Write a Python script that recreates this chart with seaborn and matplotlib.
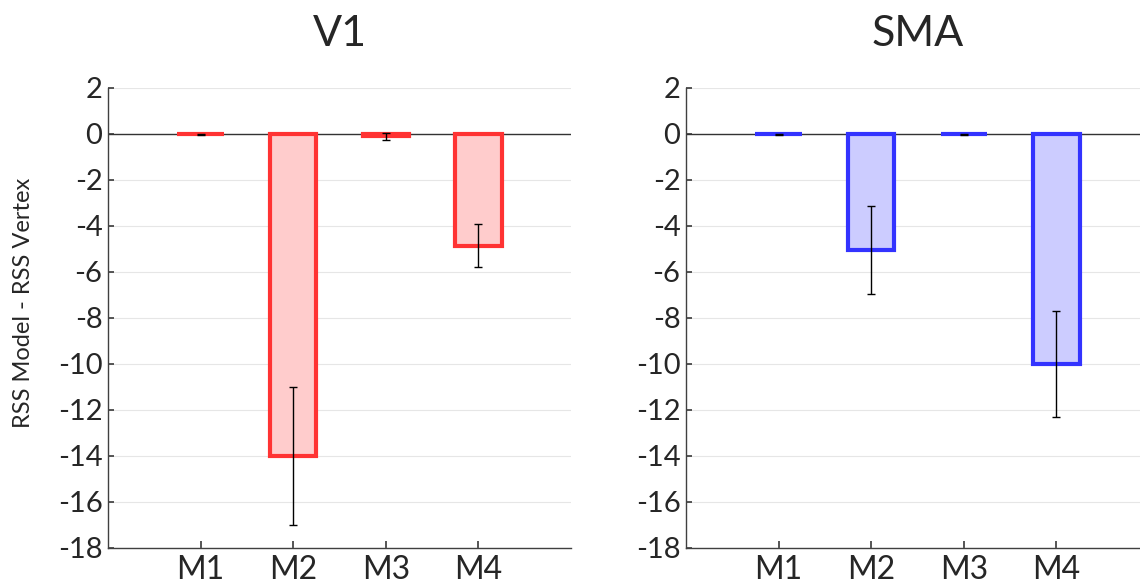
import matplotlib
matplotlib.use("Agg")
import matplotlib.pyplot as plt
import seaborn as sns
import pandas as pd

models = ["M1", "M2", "M3", "M4"]
v1_values = [-0.02, -14.0, -0.1, -4.85]
v1_errors = [0.03, 3.0, 0.15, 0.92]
sma_values = [-0.02, -5.05, -0.02, -10.0]
sma_errors = [0.03, 1.9, 0.03, 2.3]
titles = ["V1", "SMA"]
y_ticks = list(range(-18, 3, 2))

sns.set_theme(style="white")
plt.rcParams["font.family"] = ["Lato", "DejaVu Sans"]

fig = plt.figure(figsize=(11.4, 5.87), dpi=100)
ax1 = fig.add_axes([108 / 1140, 39 / 587, 463 / 1140, 460 / 587])
ax2 = fig.add_axes([686 / 1140, 39 / 587, 463 / 1140, 460 / 587])

panels = [
    (ax1, titles[0], v1_values, v1_errors, "#FFCCCC", "#FF3333"),
    (ax2, titles[1], sma_values, sma_errors, "#CCCCFF", "#3333FF"),
]

for ax, title, vals, errs, fill, edge in panels:
    df = pd.DataFrame({"model": models, "value": vals})
    ax.set_axisbelow(True)
    ax.grid(True, color="#E6E6E6", linewidth=0.8)
    ax.axhline(0, color="#333333", linewidth=1.0, zorder=1)
    sns.barplot(data=df, x="model", y="value", ax=ax, color=fill,
                edgecolor=edge, linewidth=3, width=0.5, saturation=1,
                errorbar=None, zorder=2)
    ax.errorbar(range(len(models)), vals, yerr=errs, fmt="none",
                ecolor="black", elinewidth=1, capsize=3, capthick=1, zorder=3)
    ax.set_xlim(-1, 4)
    ax.set_ylim(-18, 2)
    ax.set_yticks(y_ticks)
    ax.set_yticklabels([str(t) for t in y_ticks])
    ax.set_xlabel("")
    ax.set_ylabel("")
    ax.set_title(title, fontsize=31, pad=30)
    for s in ["top", "right"]:
        ax.spines[s].set_visible(False)
    for s in ["left", "bottom"]:
        ax.spines[s].set_color("#404040")
        ax.spines[s].set_linewidth(1.0)
    ax.tick_params(axis="y", labelsize=21, direction="in", length=4,
                   color="#404040", left=True, pad=4)
    ax.tick_params(axis="x", labelsize=23, direction="in", length=5,
                   color="#404040", bottom=True, pad=5)

ax1.set_ylabel("RSS Model - RSS Vertex", fontsize=17)
ax1.yaxis.set_label_coords(-0.16, 0.533)

fig.savefig("out.png", dpi=100)
